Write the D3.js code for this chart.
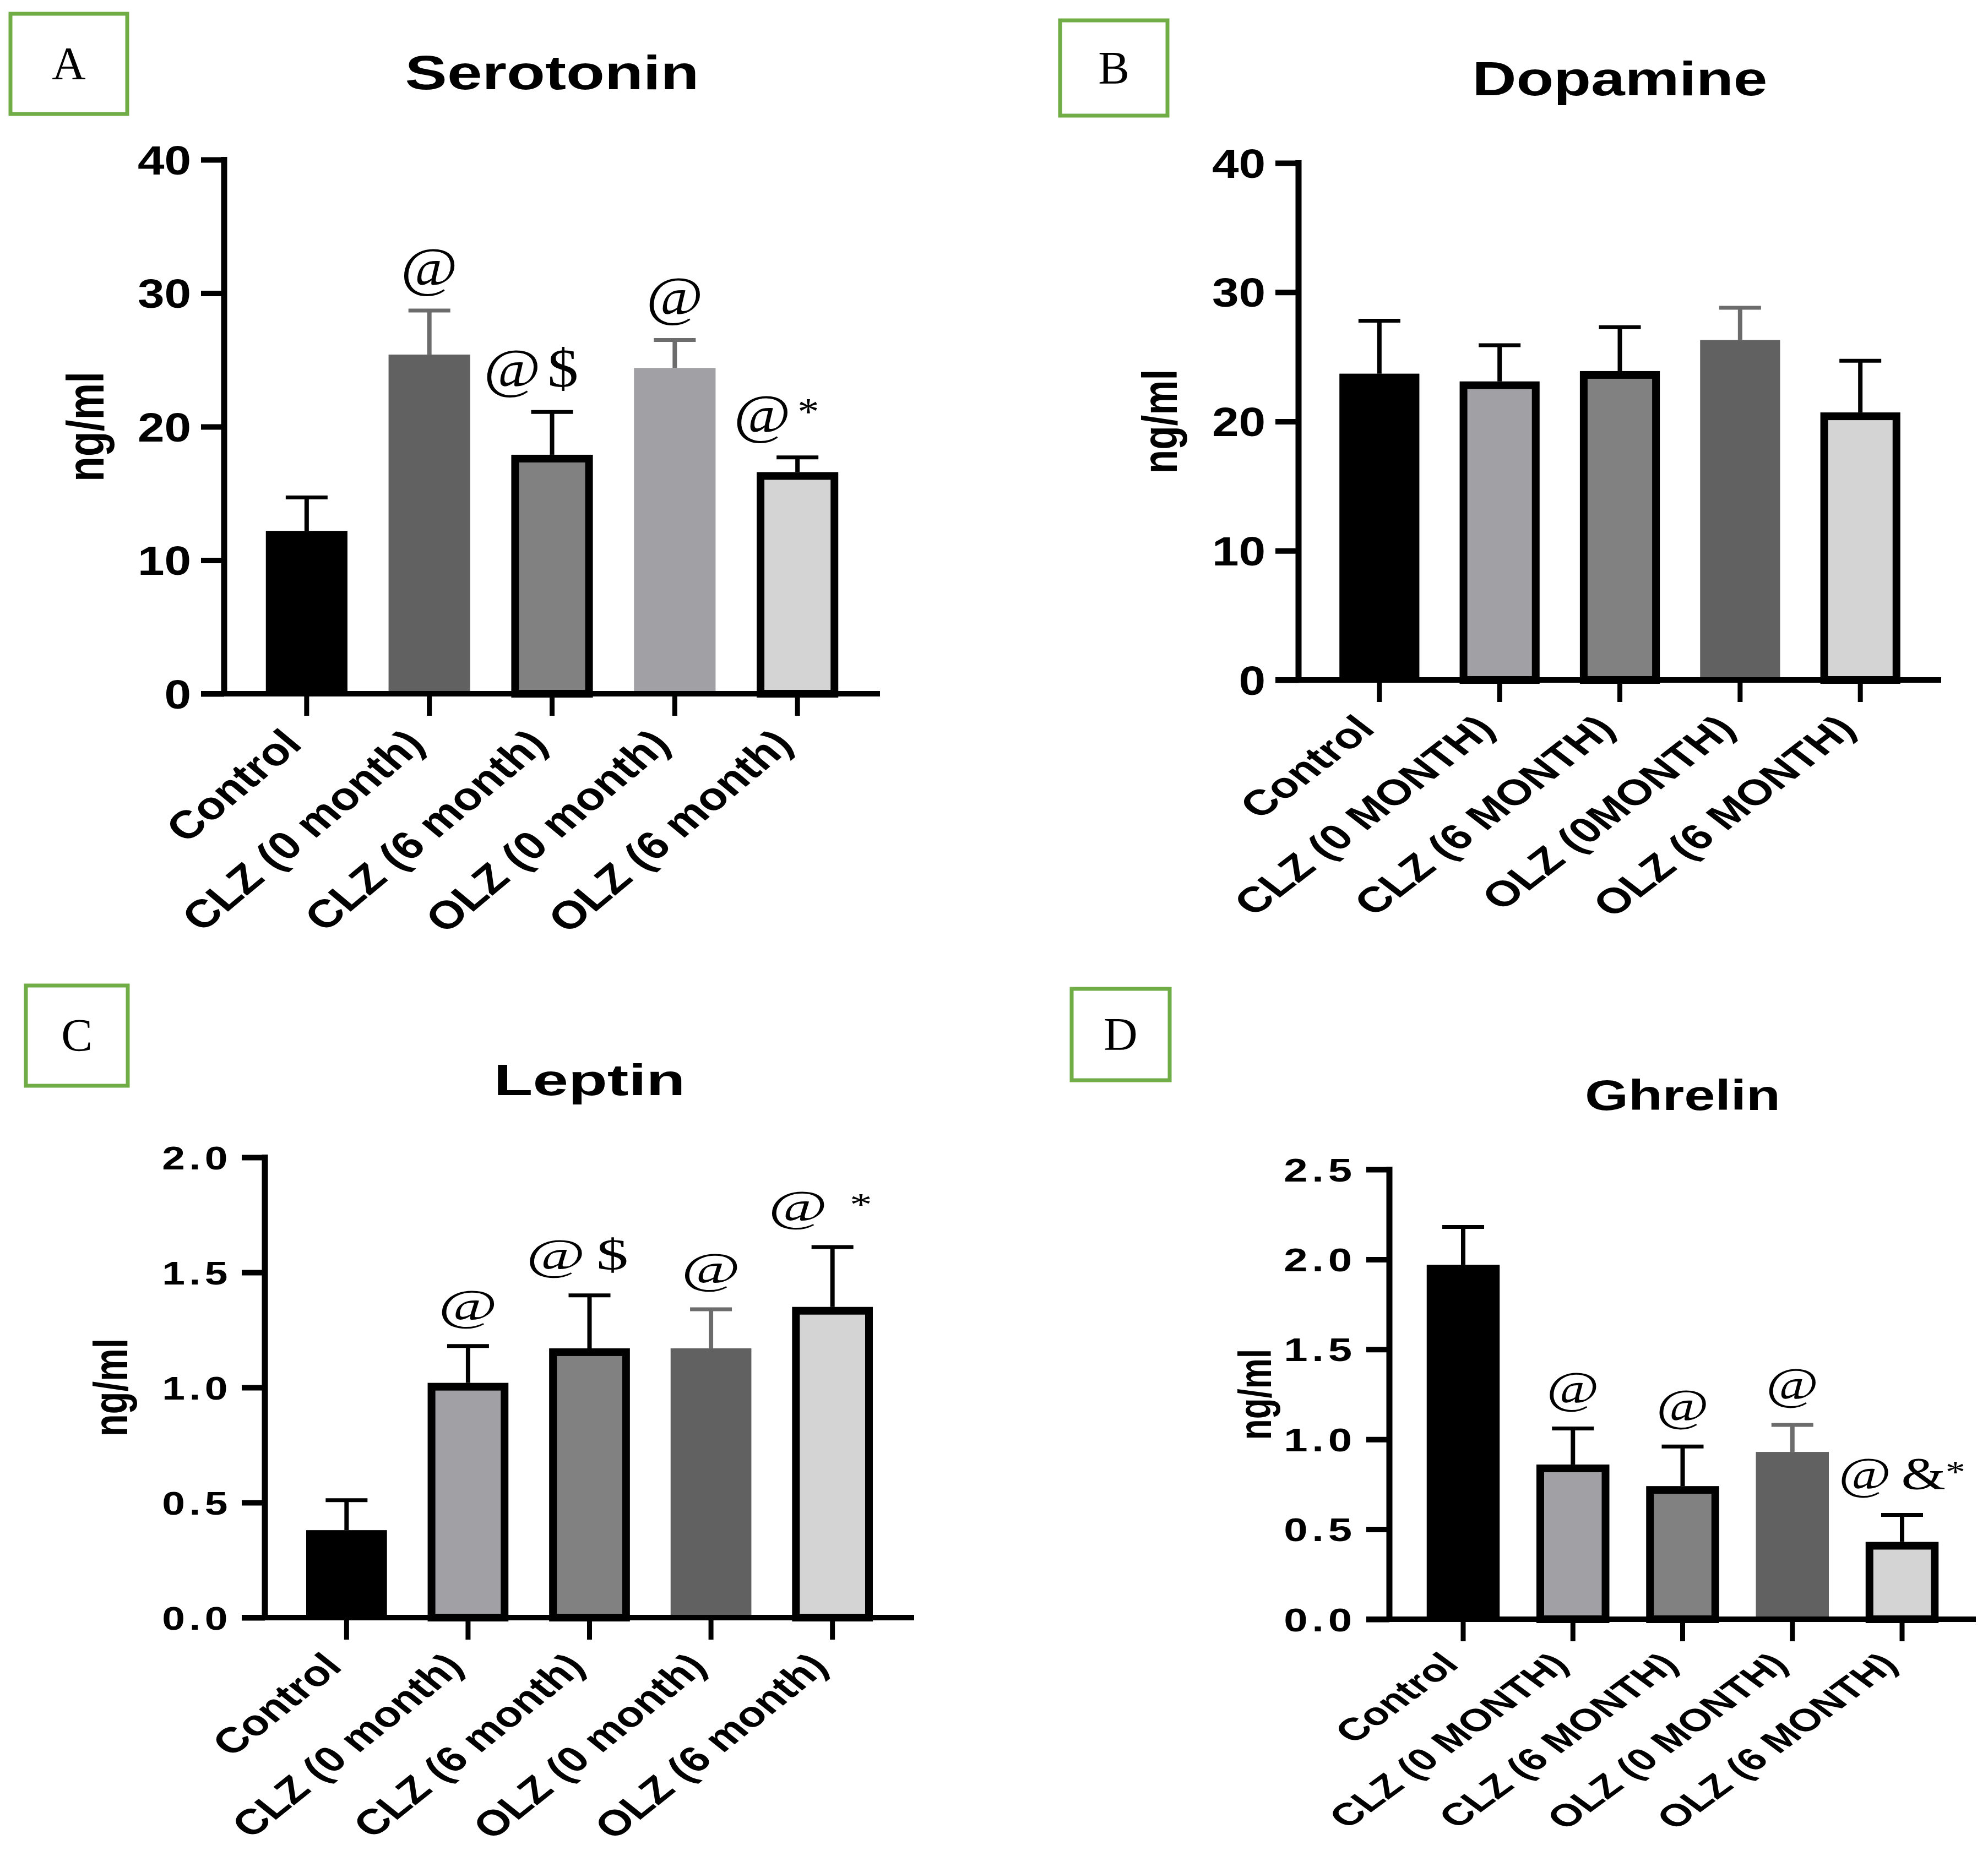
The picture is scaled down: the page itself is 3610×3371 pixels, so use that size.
<!DOCTYPE html>
<html><head><meta charset="utf-8">
<script src="https://cdn.jsdelivr.net/npm/d3@7"></script>
<style>body{margin:0;background:#fff} svg{display:block}</style>
</head><body>
<svg id="fig" width="3610" height="3371"></svg>
<script>
// ---------------- data ----------------
const groupsLower = ["Control","CLZ (0 month)","CLZ (6 month)","OLZ (0 month)","OLZ (6 month)"];
const groupsB     = ["Control","CLZ (0 MONTH)","CLZ (6 MONTH)","OLZ (0MONTH)","OLZ (6 MONTH)"];
const groupsD     = ["Control","CLZ (0 MONTH)","CLZ (6 MONTH)","OLZ (0 MONTH)","OLZ (6 MONTH)"];

const serotoninMean = [12.2, 25.4, 17.9, 24.4, 16.6];
const serotoninSEM  = [2.5, 3.3, 3.2, 2.1, 1.1];
const dopamineMean  = [23.7, 23.1, 23.9, 26.3, 20.7];
const dopamineSEM   = [4.1, 2.8, 3.4, 2.5, 4.0];
const leptinMean    = [0.38, 1.02, 1.17, 1.17, 1.35];
const leptinSEM     = [0.13, 0.16, 0.23, 0.17, 0.26];
const ghrelinMean   = [1.97, 0.86, 0.74, 0.93, 0.43];
const ghrelinSEM    = [0.21, 0.20, 0.22, 0.15, 0.15];

const serotoninTicks = [0, 10, 20, 30, 40];
const dopamineTicks  = [0, 10, 20, 30, 40];
const leptinTicks    = [0, 0.5, 1.0, 1.5, 2.0];
const ghrelinTicks   = [0, 0.5, 1.0, 1.5, 2.0, 2.5];

const serotoninMarks = ["", "@", "@ $", "@", "@ *"];
const dopamineMarks  = ["", "", "", "", ""];
const leptinMarks    = ["", "@", "@ $", "@", "@\u00a0\u00a0*"];
const ghrelinMarks   = ["", "@", "@", "@", "@ &*"];

// ---------------- styles ----------------
const fillsA     = ["#000000", "#616161", "#818181", "#a1a1a5", "#d4d4d4"];
const fillsBCD   = ["#000000", "#a1a1a5", "#818181", "#616161", "#d4d4d4"];
const outlinedA  = [false, false, true, false, true];
const outlinedBCD= [false, true, true, false, true];

const SANS = "'Liberation Sans', Arial, sans-serif";
const SERIF = "'Liberation Serif', 'Times New Roman', serif";
const svg = d3.select("#fig");
svg.append("rect").attr("width",3610).attr("height",3371).attr("fill","#fff");

function stext(g, x, y, str, o) {
  const t = g.append("text")
    .attr("transform", `translate(${x},${y}) scale(${o.sx||1},1)` + (o.rot ? ` rotate(${o.rot})` : ""))
    .attr("text-anchor", o.anchor || "middle")
    .attr("fill", "#000")
    .style("font-family", o.family || SANS)
    .style("font-size", o.size + "px")
    .style("font-weight", o.weight || "normal")
    .text(str);
  if (o.dy) t.attr("dy", o.dy);
  if (o.ls) t.style("letter-spacing", o.ls + "px");
  if (o.ws) t.style("word-spacing", o.ws + "px");
  return t;
}

function panel(p) {
  const g = svg.append("g");
  const x = d3.scaleBand().domain(p.cats).range([p.left, p.right]).paddingInner(0.335).paddingOuter(0.34);
  const y = d3.scaleLinear().domain([0, p.max]).range([p.bottom, p.top]);
  const bw = x.bandwidth();
  const rows = p.cats.map((c, i) => ({c, m: p.mean[i], s: p.sem[i], fill: p.fills[i], out: p.outlined[i], mark: p.marks[i]}));

  // error bars (drawn first, bars on top)
  const eb = g.append("g");
  rows.forEach(d => {
    const cx = x(d.c) + bw / 2;
    const col = (d.out || d.fill === "#000000") ? "#000" : "#6c6c6c";
    eb.append("line").attr("x1", cx).attr("x2", cx).attr("y1", y(d.m)).attr("y2", y(d.m + d.s))
      .attr("stroke", col).attr("stroke-width", 8);
    eb.append("line").attr("x1", cx - 38).attr("x2", cx + 38).attr("y1", y(d.m + d.s)).attr("y2", y(d.m + d.s))
      .attr("stroke", col).attr("stroke-width", 7);
  });

  // bars
  const SW = 14;
  g.append("g").selectAll("rect").data(rows).join("rect")
    .attr("x", d => x(d.c) + (d.out ? SW / 2 : 0))
    .attr("y", d => y(d.m) + (d.out ? SW / 2 : 0))
    .attr("width", d => bw - (d.out ? SW : 0))
    .attr("height", d => y(0) - y(d.m) - (d.out ? SW / 2 : 0))
    .attr("fill", d => d.fill)
    .attr("stroke", d => d.out ? "#000" : "none")
    .attr("stroke-width", SW);

  // y axis
  const ya = g.append("g").attr("transform", `translate(${p.left},0)`)
    .call(d3.axisLeft(y).tickValues(p.ticks).tickSize(42).tickSizeOuter(0).tickFormat(""));
  ya.select(".domain").remove();
  ya.selectAll(".tick line").attr("stroke", "#000").attr("stroke-width", 10);
  g.append("line").attr("x1", p.left).attr("x2", p.left).attr("y1", p.top - 5).attr("y2", p.bottom)
    .attr("stroke", "#000").attr("stroke-width", 11);

  // x axis
  const xa = g.append("g").attr("transform", `translate(0,${p.bottom})`)
    .call(d3.axisBottom(x).tickSize(40).tickSizeOuter(0).tickFormat(""));
  xa.select(".domain").remove();
  xa.selectAll(".tick line").attr("stroke", "#000").attr("stroke-width", 9);
  g.append("line").attr("x1", p.left - 42).attr("x2", p.right).attr("y1", p.bottom).attr("y2", p.bottom)
    .attr("stroke", "#000").attr("stroke-width", 10);

  // y tick labels
  p.ticks.forEach(t => {
    stext(g, p.left - 60, y(t), p.fmt(t), {size: p.tickFs, sx: p.tickSx, anchor: "end", weight: "bold", dy: "0.36em", ls: p.tickLs});
  });

  // x labels
  p.cats.forEach(c => {
    stext(g, x(c) + bw / 2 + p.labDx, p.bottom + p.labDy, c, {size: p.labFs, sx: p.labSx, rot: -45, anchor: "end", weight: "bold"});
  });

  // significance marks (asterisks set smaller and raised, as in the figure)
  rows.forEach(d => {
    if (!d.mark) return;
    const shift = d.mark.length > 1 ? p.markShift : 0;
    const t = stext(g, x(d.c) + bw / 2 + shift, y(d.m + d.s) - p.markGap, "",
      {size: p.markFs, sx: p.markSx, family: SERIF, ws: p.markWs});
    d.mark.split(/(\*)/).filter(s => s.length).forEach(seg => {
      const ts = t.append("tspan").text(seg);
      if (seg === "*") ts.style("font-size", "0.7em").attr("dy", "-0.2em");
    });
  });

  // title
  stext(g, (p.left + p.right) / 2, p.titleY, p.title, {size: p.titleFs, sx: p.titleSx, weight: "bold"});

  // y label
  stext(g, p.ylabX + 0.26 * p.ylabFs * p.ylabSx, (p.top + p.bottom) / 2, "ng/ml", {size: p.ylabFs, sx: p.ylabSx, rot: -90, weight: "bold"});

  // panel letter box
  const [bx0, by0, bx1, by1] = p.box;
  g.append("rect").attr("x", bx0).attr("y", by0).attr("width", bx1 - bx0).attr("height", by1 - by0)
    .attr("fill", "none").attr("stroke", "#70ad47").attr("stroke-width", 7);
  stext(g, (bx0 + bx1) / 2, (by0 + by1) / 2 + 28, p.letter, {size: 85, family: SERIF});
}

panel({cats: groupsLower, mean: serotoninMean, sem: serotoninSEM, ticks: serotoninTicks, marks: serotoninMarks,
  fills: fillsA, outlined: outlinedA, max: 40, fmt: d3.format("d"), title: "Serotonin", letter: "A",
  left: 407, right: 1598, bottom: 1260, top: 290, titleY: 162,
  tickFs: 74, tickSx: 1.18, labFs: 71, labSx: 1.2, labDx: -5, labDy: 95,
  titleFs: 88, titleSx: 1.3, ylabFs: 75, ylabSx: 1.25, ylabX: 164,
  markFs: 100, markSx: 1.12, markGap: 46, markShift: -38, markWs: -14, box: [19, 25, 231, 207]});

panel({cats: groupsB, mean: dopamineMean, sem: dopamineSEM, ticks: dopamineTicks, marks: dopamineMarks,
  fills: fillsBCD, outlined: outlinedBCD, max: 40, fmt: d3.format("d"), title: "Dopamine", letter: "B",
  left: 2358, right: 3525, bottom: 1235, top: 296, titleY: 173,
  tickFs: 74, tickSx: 1.18, labFs: 65, labSx: 1.3, labDx: -5, labDy: 92,
  titleFs: 88, titleSx: 1.26, ylabFs: 71, ylabSx: 1.25, ylabX: 2114,
  markFs: 80, markSx: 1.22, markGap: 50, markShift: 0, markWs: 0, box: [1925, 37, 2120, 210]});

panel({cats: groupsLower, mean: leptinMean, sem: leptinSEM, ticks: leptinTicks, marks: leptinMarks,
  fills: fillsBCD, outlined: outlinedBCD, max: 2, fmt: d3.format(".1f"), title: "Leptin", letter: "C",
  left: 481, right: 1660, bottom: 2938, top: 2102, titleY: 1989,
  tickFs: 60, tickSx: 1.25, tickLs: 6, labFs: 65, labSx: 1.25, labDx: -5, labDy: 92,
  titleFs: 80, titleSx: 1.45, ylabFs: 67, ylabSx: 1.3, ylabX: 208,
  markFs: 80, markSx: 1.45, markGap: 47, markShift: -22, markWs: -6, box: [47, 1790, 232, 1972]});

panel({cats: groupsD, mean: ghrelinMean, sem: ghrelinSEM, ticks: ghrelinTicks, marks: ghrelinMarks,
  fills: fillsBCD, outlined: outlinedBCD, max: 2.5, fmt: d3.format(".1f"), title: "Ghrelin", letter: "D",
  left: 2523, right: 3588, bottom: 2941, top: 2124, titleY: 2016,
  tickFs: 60, tickSx: 1.3, tickLs: 6, labFs: 57, labSx: 1.36, labDx: -5, labDy: 85,
  titleFs: 78, titleSx: 1.3, ylabFs: 62, ylabSx: 1.35, ylabX: 2286,
  markFs: 82, markSx: 1.26, markGap: 47, markShift: 0, markWs: -6, box: [1946, 1796, 2124, 1962]});
</script>
</body></html>
